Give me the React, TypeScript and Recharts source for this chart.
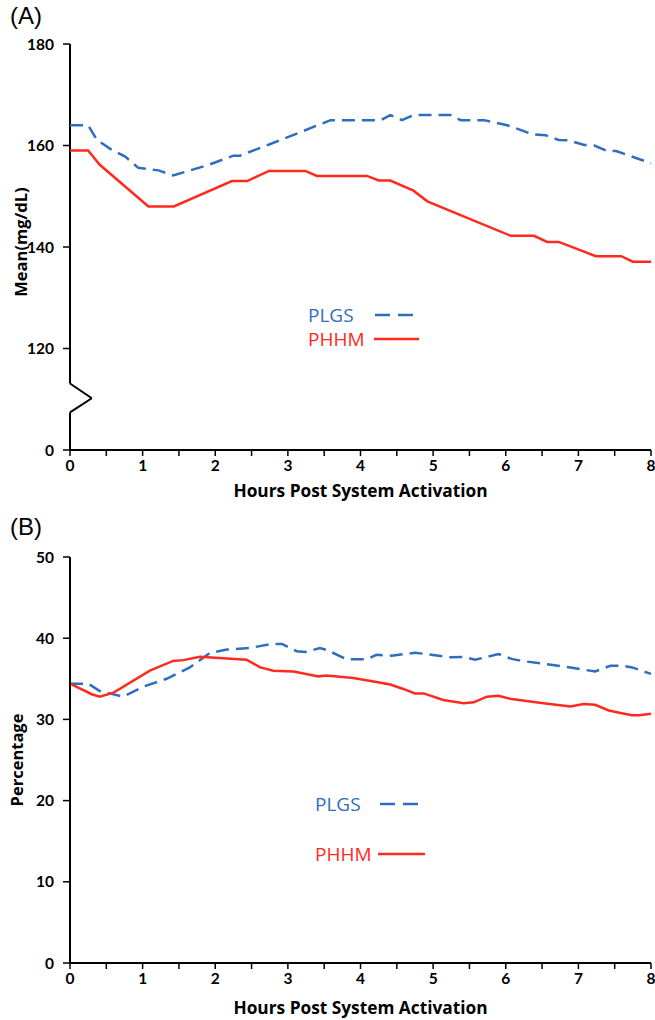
import React from 'react';
import { LineChart, Line, XAxis, YAxis, ReferenceLine } from 'recharts';

// ---------- Data ----------
const hourTicks = [0, 0.5, 1, 1.5, 2, 2.5, 3, 3.5, 4, 4.5, 5, 5.5, 6, 6.5, 7, 7.5, 8];
const meanTicks = [100, 120, 140, 160, 180];
const pctTicks = [0, 10, 20, 30, 40, 50];

// Panel A: mean glucose (mg/dL)
const plgsAHours = [0, 0.25, 0.37, 0.57, 0.76, 0.94, 1.22, 1.42, 1.89, 2.25, 2.34, 2.76, 3.59, 3.72, 4.28, 4.41, 4.57, 4.73, 5.24, 5.38, 5.7, 6.02, 6.37, 6.55, 6.73, 6.87, 7.08, 7.22, 7.4, 7.52, 8.0];
const plgsAValues = [164, 164, 161.1, 159.2, 157.8, 155.6, 155.1, 154.1, 156.1, 158, 158, 160.3, 165, 165, 165, 166, 165, 166, 166, 165, 165, 164, 162.2, 162, 161.1, 161, 160.1, 160, 158.9, 158.9, 156.5];
const phhmAHours = [0, 0.25, 0.41, 1.08, 1.43, 2.23, 2.44, 2.74, 3.24, 3.4, 4.09, 4.25, 4.41, 4.73, 4.92, 6.07, 6.39, 6.57, 6.73, 7.24, 7.59, 7.75, 8.0];
const phhmAValues = [159, 159, 156.2, 148, 148, 153, 153, 155, 155, 154, 154, 153.1, 153.1, 151.1, 149, 142.2, 142.2, 141, 141, 138.2, 138.2, 137.1, 137.1];

// Panel B: percentage
const plgsBHours = [0, 0.25, 0.41, 0.73, 1.0, 1.33, 1.65, 1.93, 2.16, 2.48, 2.78, 2.92, 3.12, 3.25, 3.44, 3.55, 3.81, 4.09, 4.22, 4.43, 4.75, 4.85, 5.23, 5.42, 5.58, 5.9, 6.08, 6.22, 6.57, 6.89, 7.09, 7.23, 7.44, 7.6, 7.74, 7.87, 8.0];
const plgsBValues = [34.4, 34.4, 33.5, 32.8, 34.0, 35.0, 36.4, 38.2, 38.6, 38.8, 39.3, 39.3, 38.4, 38.3, 38.8, 38.5, 37.4, 37.4, 37.95, 37.85, 38.2, 38.1, 37.65, 37.7, 37.35, 38.05, 37.45, 37.2, 36.8, 36.4, 36.1, 35.9, 36.6, 36.6, 36.4, 36.0, 35.6];
const phhmBHours = [0, 0.3, 0.41, 0.6, 1.1, 1.42, 1.56, 1.79, 2.43, 2.62, 2.8, 3.08, 3.42, 3.53, 3.9, 4.22, 4.41, 4.59, 4.75, 4.87, 5.14, 5.42, 5.56, 5.74, 5.9, 6.08, 6.52, 6.89, 7.07, 7.23, 7.42, 7.58, 7.74, 7.84, 8.0];
const phhmBValues = [34.4, 33.1, 32.8, 33.3, 36.0, 37.2, 37.3, 37.7, 37.35, 36.4, 36.0, 35.9, 35.3, 35.4, 35.1, 34.6, 34.3, 33.75, 33.2, 33.2, 32.4, 32.0, 32.1, 32.8, 32.9, 32.5, 32.0, 31.6, 31.9, 31.8, 31.1, 30.8, 30.5, 30.5, 30.7];

// Axis break markers on the Panel A y-axis (hours, mg/dL)
const breakHours = [0, 0, 0.3, 0, 0];
const breakValues = [180, 113.1, 110.2, 107.4, 100];

const seriesNames = ['PLGS', 'PHHM'];

const zip = (xs: number[], ys: number[]) => xs.map((t, i) => ({ t, v: ys[i] }));
const plgsA = zip(plgsAHours, plgsAValues);
const phhmA = zip(phhmAHours, phhmAValues);
const plgsB = zip(plgsBHours, plgsBValues);
const phhmB = zip(phhmBHours, phhmBValues);

// ---------- Style ----------
const BLUE = '#2F6DBF';
const RED = '#FF2A1E';
const FONT = 'Lato, "Open Sans", sans-serif';
const TITLE_FONT = '"Open Sans", Lato, sans-serif';
const tickStyle = { fill: '#000', fontSize: 15.5, fontWeight: 700, fontFamily: FONT };

const fmtX = (v: number) => (Number.isInteger(v) ? String(v) : '');

const AxisTitleY = (text: string, cx: number, dy: number) => (props: any) => {
  const vb = props.viewBox || {};
  const cy = vb.y + vb.height / 2 + dy;
  return (
    <text
      x={cx}
      y={cy}
      transform={`rotate(-90, ${cx}, ${cy})`}
      textAnchor="middle"
      dominantBaseline="central"
      style={{ fontFamily: TITLE_FONT, fontWeight: 700, fontSize: 16.5, fill: '#000' }}
    >
      {text}
    </text>
  );
};

const AxisTitleX = (text: string, cy: number) => (props: any) => {
  const vb = props.viewBox || {};
  const cx = vb.x + vb.width / 2;
  return (
    <text
      x={cx}
      y={vb.y + cy}
      textAnchor="middle"
      dominantBaseline="central"
      style={{ fontFamily: TITLE_FONT, fontWeight: 700, fontSize: 17.3, fill: '#000' }}
    >
      {text}
    </text>
  );
};

const LegendBox = ({ left, top, gap, lineStart, lineLen }: any) => (
  <div style={{ position: 'absolute', left, top, width: 140, height: gap + 30 }}>
    <span style={{ position: 'absolute', left: 0, top: 0, color: BLUE, fontFamily: '"Open Sans", sans-serif', fontSize: 19, lineHeight: '24px', whiteSpace: 'nowrap' }}>
      {seriesNames[0]}
    </span>
    <svg style={{ position: 'absolute', left: lineStart[0], top: 8 }} width={lineLen[0]} height={8}>
      <line x1={0} y1={4} x2={lineLen[0]} y2={4} stroke={BLUE} strokeWidth={2.5} strokeDasharray="15 8" />
    </svg>
    <span style={{ position: 'absolute', left: 0, top: gap, color: RED, fontFamily: '"Open Sans", sans-serif', fontSize: 19, lineHeight: '24px', whiteSpace: 'nowrap' }}>
      {seriesNames[1]}
    </span>
    <svg style={{ position: 'absolute', left: lineStart[1], top: gap + 8 }} width={lineLen[1]} height={8}>
      <line x1={0} y1={4} x2={lineLen[1]} y2={4} stroke={RED} strokeWidth={2.5} />
    </svg>
  </div>
);

const PanelLabel = ({ text, top }: { text: string; top: number }) => (
  <div style={{ position: 'absolute', left: 10, top, fontFamily: '"Liberation Sans", Arial, sans-serif', fontSize: 24, lineHeight: '28px', color: '#000' }}>
    {text}
  </div>
);

const ChartA = () => (
  <LineChart width={655} height={510} margin={{ top: 44, right: 4, bottom: 0, left: 0 }}>
    <XAxis
      type="number"
      dataKey="t"
      domain={[0, 8]}
      ticks={hourTicks}
      tickFormatter={fmtX}
      interval={0}
      height={60}
      tickSize={6}
      tickMargin={4}
      axisLine={{ stroke: '#000', strokeWidth: 2 }}
      tickLine={{ stroke: '#000', strokeWidth: 1.5 }}
      tick={tickStyle}
      label={{ content: AxisTitleX('Hours Post System Activation', 40) }}
    />
    <YAxis
      type="number"
      domain={[100, 180]}
      ticks={meanTicks}
      tickFormatter={(v: number) => (v === 100 ? '0' : String(v))}
      interval={0}
      width={70}
      tickSize={7}
      tickMargin={9}
      axisLine={false}
      tickLine={{ stroke: '#000', strokeWidth: 1.5 }}
      tick={tickStyle}
      label={{ content: AxisTitleY('Mean(mg/dL)', 20, -5) }}
    />
    {breakHours.slice(0, -1).map((h, i) => (
      <ReferenceLine
        key={i}
        segment={[
          { x: h, y: breakValues[i] },
          { x: breakHours[i + 1], y: breakValues[i + 1] },
        ]}
        stroke="#000"
        strokeWidth={2}
        ifOverflow="visible"
      />
    ))}
    <Line data={plgsA} dataKey="v" name={seriesNames[0]} type="linear" stroke={BLUE} strokeWidth={2.5} strokeDasharray="13 7" dot={false} isAnimationActive={false} />
    <Line data={phhmA} dataKey="v" name={seriesNames[1]} type="linear" stroke={RED} strokeWidth={2.5} dot={false} isAnimationActive={false} />
  </LineChart>
);

const ChartB = () => (
  <LineChart width={655} height={510} margin={{ top: 47, right: 4, bottom: 0, left: 0 }}>
    <XAxis
      type="number"
      dataKey="t"
      domain={[0, 8]}
      ticks={hourTicks}
      tickFormatter={fmtX}
      interval={0}
      height={57}
      tickSize={6}
      tickMargin={4}
      axisLine={{ stroke: '#000', strokeWidth: 2 }}
      tickLine={{ stroke: '#000', strokeWidth: 1.5 }}
      tick={tickStyle}
      label={{ content: AxisTitleX('Hours Post System Activation', 44) }}
    />
    <YAxis
      type="number"
      domain={[0, 50]}
      ticks={pctTicks}
      interval={0}
      width={70}
      tickSize={7}
      tickMargin={9}
      axisLine={{ stroke: '#000', strokeWidth: 2 }}
      tickLine={{ stroke: '#000', strokeWidth: 1.5 }}
      tick={tickStyle}
      label={{ content: AxisTitleY('Percentage', 16, 0) }}
    />
    <Line data={plgsB} dataKey="v" name={seriesNames[0]} type="linear" stroke={BLUE} strokeWidth={2.5} strokeDasharray="13 7" dot={false} isAnimationActive={false} />
    <Line data={phhmB} dataKey="v" name={seriesNames[1]} type="linear" stroke={RED} strokeWidth={2.5} dot={false} isAnimationActive={false} />
  </LineChart>
);

export default function App() {
  return (
    <div style={{ position: 'absolute', left: 0, top: 0, width: 655, height: 1020, background: '#fff' }}>
      <div style={{ position: 'absolute', left: 0, top: 0 }}>
        <ChartA />
      </div>
      <div style={{ position: 'absolute', left: 0, top: 510 }}>
        <ChartB />
      </div>
      <LegendBox left={308} top={303} gap={24} lineStart={[67, 66]} lineLen={[43, 45]} />
      <LegendBox left={315} top={792} gap={50} lineStart={[65, 63]} lineLen={[42, 47]} />
      <PanelLabel text="(A)" top={2} />
      <PanelLabel text="(B)" top={513} />
    </div>
  );
}
